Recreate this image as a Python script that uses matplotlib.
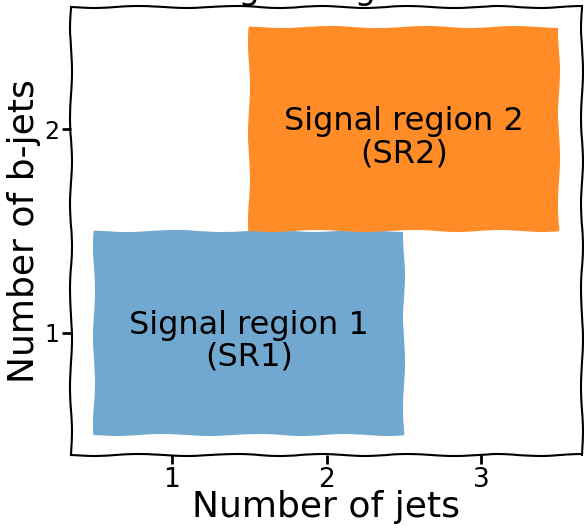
import matplotlib
matplotlib.use("Agg")
import matplotlib.pyplot as plt
from matplotlib.patches import Rectangle

# region boxes: (jets range, b-jets range)
region_labels = ["Signal region 1\n(SR1)", "Signal region 2\n(SR2)"]
jets_lo = [0.5, 1.5]
jets_hi = [2.5, 3.5]
bjets_lo = [0.5, 1.5]
bjets_hi = [1.5, 2.5]
region_colors = ["#70a8d0", "#ff8c26"]

x_ticks = [1, 2, 3]
y_ticks = [1, 2]

with plt.xkcd():
    plt.rcParams["font.family"] = "DejaVu Sans"
    plt.rcParams["path.effects"] = []

    fig = plt.figure(figsize=(5.84, 5.28), dpi=100)
    ax = fig.add_axes([71 / 584, 1 - 455 / 528, 511 / 584, 448 / 528])

    for lab, x0, x1, y0, y1, c in zip(region_labels, jets_lo, jets_hi,
                                      bjets_lo, bjets_hi, region_colors):
        ax.add_patch(Rectangle((x0, y0), x1 - x0, y1 - y0, facecolor=c,
                               edgecolor="none"))
        ax.annotate(lab, ((x0 + x1) / 2, (y0 + y1) / 2), xytext=(0, -6),
                    textcoords="offset points", ha="center", va="center",
                    fontsize=23, linespacing=1.05)

    ax.autoscale_view()
    ax.set_xticks(x_ticks)
    ax.set_yticks(y_ticks)
    ax.tick_params(axis="x", labelsize=19, width=2, length=6.5, pad=2)
    ax.tick_params(axis="y", labelsize=17, width=2, length=6.5, pad=2)
    ax.set_xlabel("Number of jets", fontsize=26, labelpad=-2)
    ax.set_ylabel("Number of b-jets", fontsize=26, labelpad=2)
    ax.set_title("Signal regions", fontsize=24)

    fig.savefig("out.png", dpi=100)
